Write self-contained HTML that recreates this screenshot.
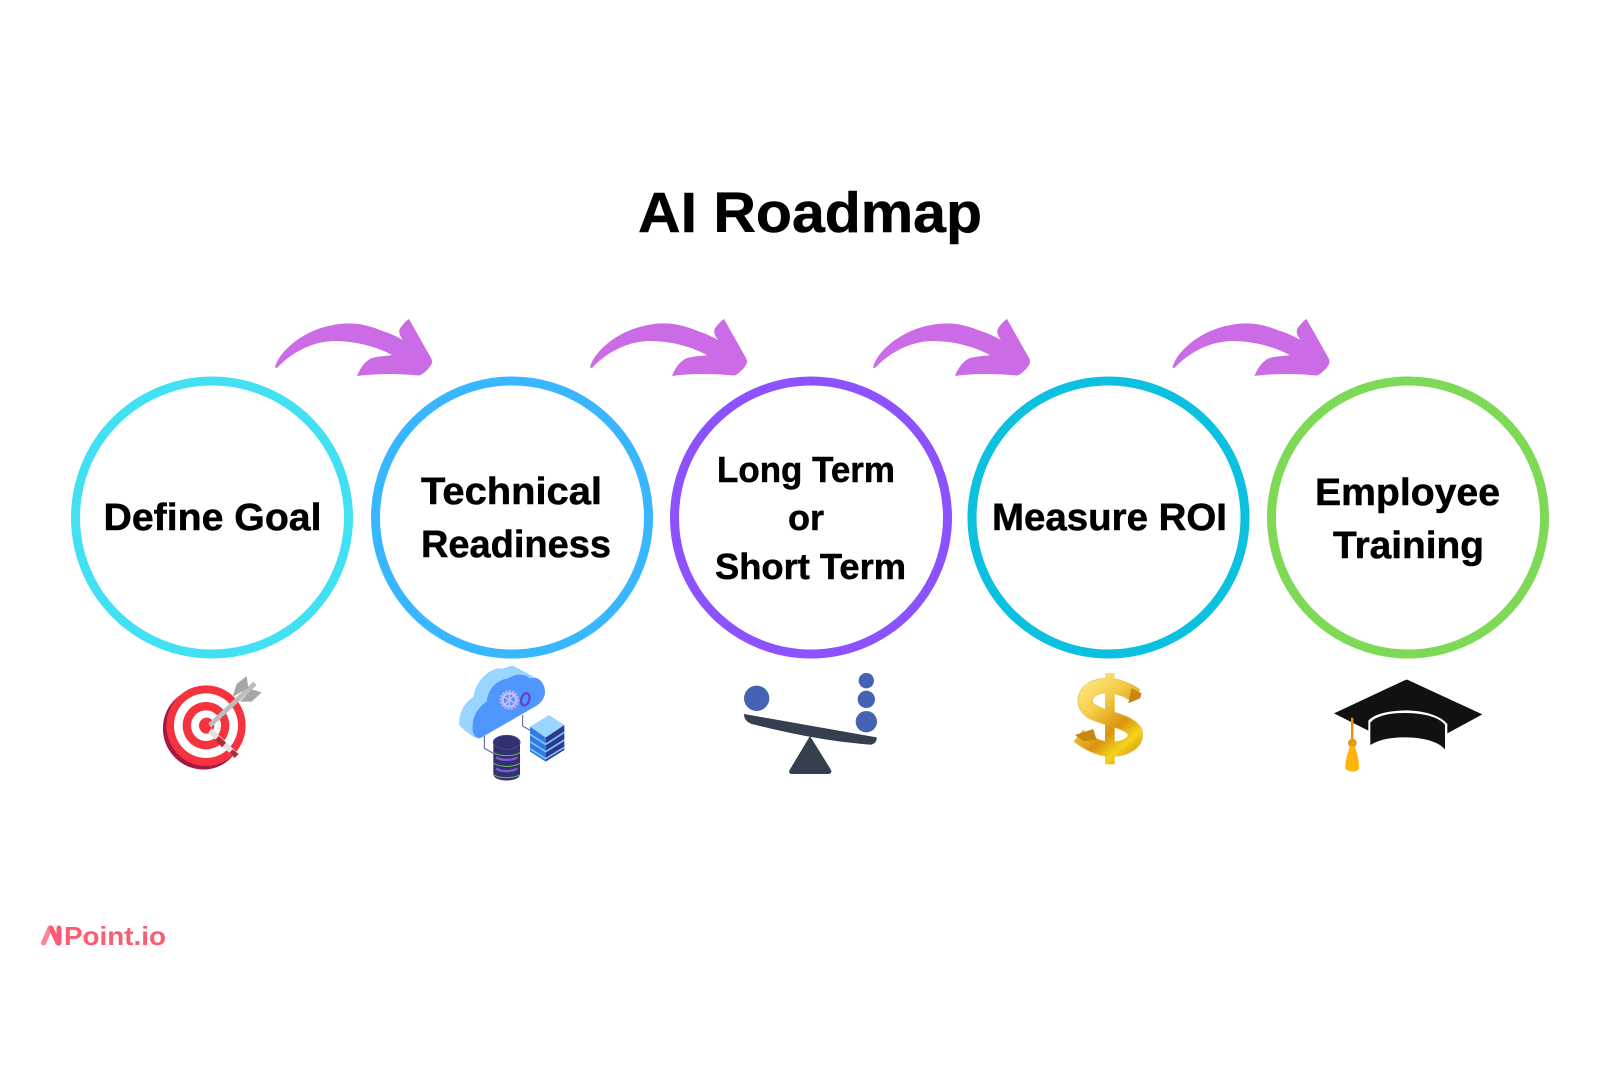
<!DOCTYPE html>
<html lang="en">
<head>
<meta charset="utf-8">
<title>AI Roadmap</title>
<style>
html,body{margin:0;padding:0;background:#fff;width:1620px;height:1080px;overflow:hidden}
svg{display:block}
text{font-family:"Liberation Sans",sans-serif;font-weight:700;fill:#000}
.t{stroke:#000;stroke-width:.5}
</style>
</head>
<body>
<svg xmlns="http://www.w3.org/2000/svg" width="1620" height="1080" viewBox="0 0 1620 1080">
<defs>
<path id="arr" d="M275,367.5 C278,354 296,337 318,329 C345,320 362,323 380,330 C389,333 396,336 403,340 C399,335 398,330 401,327 C404,323 407,320 409,319 L431,358 C433,362 432,364 429,368 C425,372 422,375 419,375.5 C400,374 378,373 357,376 C360,368 365,361 372,358 C380,356 388,356 392,355 C375,346 355,341 333,341 C310,342 290,354 277,368 Z"/>
<linearGradient id="gold" gradientUnits="userSpaceOnUse" x1="50" y1="40" x2="250" y2="270">
<stop offset="0" stop-color="#fff08a"/><stop offset=".35" stop-color="#f4cb45"/><stop offset=".62" stop-color="#d9940f"/><stop offset=".8" stop-color="#f4d41c"/><stop offset="1" stop-color="#c98610"/>
</linearGradient>
</defs>
<rect width="1620" height="1080" fill="#fff"/>

<text class="t" x="638" y="232" font-size="57" textLength="344" lengthAdjust="spacingAndGlyphs">AI Roadmap</text>

<g fill="#cb6ce6">
<use href="#arr"/>
<use href="#arr" x="315"/>
<use href="#arr" x="598"/>
<use href="#arr" x="897.5"/>
</g>

<g fill="#fff" stroke-width="9">
<circle cx="212" cy="517.5" r="136.5" stroke="#41e0f2"/>
<circle cx="512" cy="517.5" r="136.5" stroke="#38b6ff"/>
<circle cx="811" cy="517.5" r="136.5" stroke="#8c52ff"/>
<circle cx="1110.5" cy="517.5" r="136.5" stroke="#0cc0df" transform="translate(-2,0)"/>
<circle cx="1410" cy="517.5" r="136.5" stroke="#7ed957" transform="translate(-2,0)"/>
</g>

<g font-size="38" class="t">
<text x="103.5" y="530" textLength="218" lengthAdjust="spacingAndGlyphs">Define Goal</text>
<text x="421" y="504" textLength="181" lengthAdjust="spacingAndGlyphs">Technical</text>
<text x="421" y="557" textLength="190" lengthAdjust="spacingAndGlyphs">Readiness</text>
<text x="992" y="530" textLength="235" lengthAdjust="spacingAndGlyphs">Measure ROI</text>
<text x="1315" y="505" textLength="185" lengthAdjust="spacingAndGlyphs">Employee</text>
<text x="1333" y="558" textLength="151" lengthAdjust="spacingAndGlyphs">Training</text>
</g>
<g font-size="36" class="t">
<text x="717" y="482" textLength="178" lengthAdjust="spacingAndGlyphs">Long Term</text>
<text x="788" y="530" textLength="36" lengthAdjust="spacingAndGlyphs">or</text>
<text x="715" y="579" textLength="191" lengthAdjust="spacingAndGlyphs">Short Term</text>
</g>

<!-- target -->
<g transform="translate(140,660) scale(.33333)">
<ellipse cx="188" cy="207" rx="119" ry="122" fill="#a3193f" transform="rotate(-20 188 207)"/>
<ellipse cx="198" cy="197" rx="119" ry="121" fill="#f5333f"/>
<ellipse cx="198" cy="197" rx="96" ry="97" fill="#fff"/>
<ellipse cx="198" cy="197" rx="70" ry="71" fill="#f5333f"/>
<ellipse cx="198" cy="197" rx="45" ry="46" fill="#fff"/>
<ellipse cx="200" cy="197" rx="23" ry="24" fill="#f5333f"/>
<path d="M215,205 L292,278 L280,290 L205,218 Z" fill="#e2e2e2"/>
<path d="M236,228 L258,248 L246,262 L226,240 Z" fill="#b52a3a"/>
<path d="M278,268 L296,282 L284,294 L268,278 Z" fill="#b52a3a"/>
<path d="M205,190 L340,65 L350,75 L213,203 Z" fill="#bdbdbd"/>
<path d="M278,110 L290,72 L320,48 L325,85 Z" fill="#a6a6a6"/>
<path d="M300,125 L335,125 L365,97 L335,88 Z" fill="#a6a6a6"/>
</g>

<!-- cloud / database / server -->
<g transform="translate(450,660) scale(.33333)">
<path d="M103,228 V265 L132,281 M218,165 V198 L242,212" fill="none" stroke="#5b4f9e" stroke-width="3"/>
<path d="M28,195 C25,165 40,130 70,110 C75,70 110,30 145,25 C165,30 175,15 190,18 C205,25 225,35 250,50 L90,235 L72,232 C58,222 40,210 28,195 Z" fill="#99d5ff"/>
<path d="M68,210 C65,175 80,145 110,125 C115,85 140,60 175,55 C195,40 225,40 240,55 C265,45 285,70 285,95 C285,120 265,135 255,140 L95,232 C80,240 70,225 68,210 Z" fill="#4f96ff"/>
<circle cx="178" cy="120" r="26" fill="none" stroke="#c9b3f5" stroke-width="7" stroke-dasharray="6 4"/>
<circle cx="178" cy="120" r="20" fill="none" stroke="#d3bdf8" stroke-width="6"/>
<path d="M163,135 L193,105 M161,110 L195,130 M178,98 V142" stroke="#d3bdf8" stroke-width="4"/>
<ellipse cx="226" cy="118" rx="12" ry="19" fill="#4f96ff" stroke="#6a3fc9" stroke-width="7" transform="rotate(18 226 118)"/>
<path d="M240,200 V275 L287,305 V232 Z" fill="#2f7be0"/>
<path d="M287,232 L343,195 V270 L287,305 Z" fill="#2d3a8c"/>
<path d="M240,200 L297,165 L343,195 L287,232 Z" fill="#99d5ff"/>
<path d="M240,223 L287,253 L343,217 M240,245 L287,275 L343,240 M240,266 L287,296 L343,262" fill="none" stroke="#7cc4ff" stroke-width="5"/>
<path d="M130,245 V342 C130,368 210,368 210,342 V245 Z" fill="#33306f"/>
<ellipse cx="170" cy="247" rx="40" ry="21" fill="#33306f" stroke="#4b4590" stroke-width="3"/>
<path d="M130,278 C150,290 190,290 210,278 M130,310 C150,322 190,322 210,310 M130,344 C150,356 190,356 210,344" fill="none" stroke="#6cc04a" stroke-width="3"/>
<path d="M138,292 C155,302 185,302 202,292 M138,326 C155,336 185,336 202,326" fill="none" stroke="#7b5bd6" stroke-width="7"/>
</g>

<!-- seesaw -->
<g transform="translate(440,650) scale(.33333)">
<g fill="#4662b4">
<circle cx="950" cy="145" r="38"/>
<circle cx="1279" cy="92" r="23"/>
<circle cx="1279" cy="148" r="26"/>
<circle cx="1279" cy="215" r="32"/>
</g>
<g fill="#363f4e">
<path d="M912,192 L1310,262 C1312,275 1300,285 1290,284 C1150,272 1050,250 935,222 C918,215 912,205 912,192 Z"/>
<path d="M1110,258 L1172,358 C1178,368 1170,372 1165,372 L1055,372 C1048,372 1045,365 1050,358 Z"/>
</g>
</g>

<!-- dollar -->
<g transform="translate(1060,665) scale(.33333)">
<path d="M228,92 C195,68 150,55 115,65 C75,75 62,115 92,137 C125,160 205,165 225,200 C235,240 180,255 145,252 C110,250 80,232 55,212" fill="none" stroke="#e8c262" stroke-width="46"/>
<path d="M228,92 C195,68 150,55 115,65 C75,75 62,115 92,137 C125,160 205,165 225,200 C235,240 180,255 145,252 C110,250 80,232 55,212" fill="none" stroke="url(#gold)" stroke-width="41"/>
<rect x="135" y="24" width="29" height="274" fill="url(#gold)"/>
<path d="M215,70 L245,85 L240,100 L205,115 Z M45,210 L100,192 L110,225 L70,228 Z" fill="#c98610"/>
</g>

<!-- mortarboard -->
<g transform="translate(1040,650) scale(.33333)">
<path d="M882,190 L1096,90 Q1100,88 1104,90 L1327,193 L1222,250 V222 C1200,195 1150,182 1100,181 C1050,182 1005,190 985,212 V242 Z" fill="#111"/>
<path d="M991,285 V218 C1010,195 1060,188 1100,189 C1150,190 1195,200 1215,224 V298 C1190,270 1140,262 1090,262 C1050,262 1015,270 991,285 Z" fill="#111"/>
<rect x="933" y="203" width="7" height="72" fill="#f08c00"/>
<circle cx="937" cy="279" r="13" fill="#e39b10"/>
<path d="M930,288 H944 C952,310 958,335 957,355 C950,368 925,368 916,355 C915,335 922,310 930,288 Z" fill="#ffb30f"/>
</g>

<!-- logo -->
<g fill="none" stroke="#fb5c74" stroke-width="5" stroke-linecap="round">
<path d="M43.5,943 L50,928" opacity=".75"/>
<path d="M51,928 L58,943"/>
<path d="M59,928 V943"/>
</g>
<text x="64" y="945" font-size="26" textLength="102" lengthAdjust="spacingAndGlyphs" style="fill:#fb5c74">Point.io</text>
</svg>
</body>
</html>
